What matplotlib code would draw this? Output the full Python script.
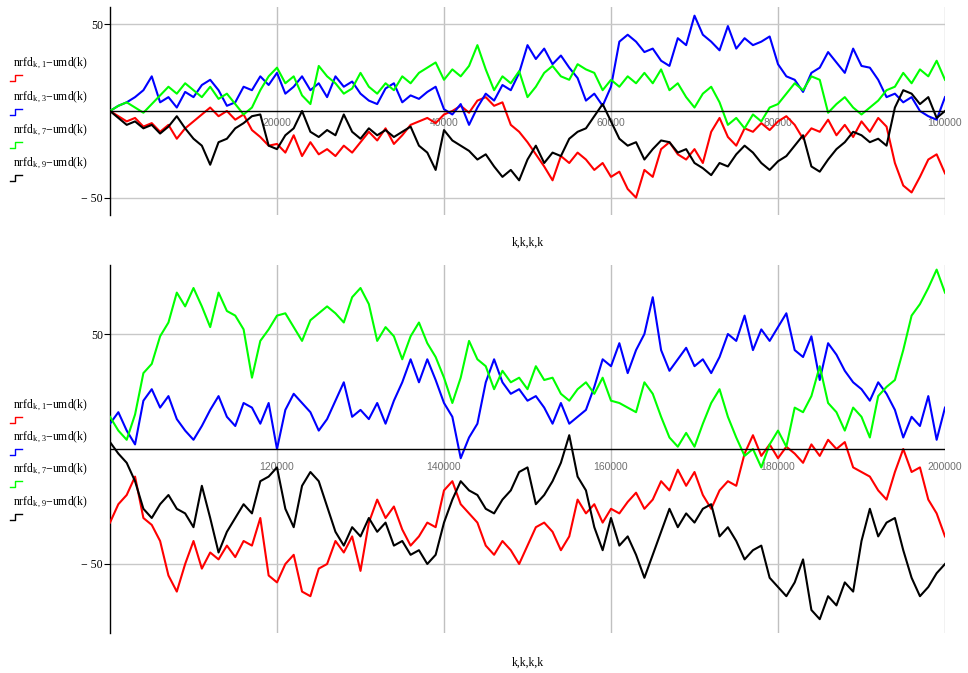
import numpy as np
import matplotlib
matplotlib.use('Agg')
import matplotlib.pyplot as plt
from matplotlib.lines import Line2D

plt.rcParams['mathtext.fontset'] = 'custom'
plt.rcParams['mathtext.rm'] = 'Liberation Serif'
plt.rcParams['mathtext.it'] = 'Liberation Serif:italic'

# values, one sample per 1000 of k
red_top = [0, -3, -6, -4, -9, -7, -12, -8, -16, -10, -6, -2, 2, -3, 0, -5, -2, -11, -15, -20,
           -19, -24, -14, -26, -18, -25, -22, -26, -20, -24, -18, -12, -17, -10, -19, -14, -8, -6, -4, -7,
           -2, 0, 3, -1, 6, 8, 3, 5, -8, -12, -18, -25, -32, -40, -26, -30, -24, -28, -34, -30,
           -38, -35, -45, -50, -34, -38, -22, -18, -25, -28, -22, -30, -12, -4, -15, -20, -10, -12, -7, -11,
           -6, -3, -8, -16, -10, -12, -5, -14, -8, -15, -6, -12, -4, -9, -30, -43, -47, -38, -28, -25, -36]
blue_top = [0, 3, 5, 8, 12, 20, 5, 8, 2, 11, 8, 15, 18, 12, 3, 5, 14, 12, 20, 15,
            22, 10, 14, 20, 12, 16, 8, 20, 14, 17, 10, 6, 4, 13, 16, 5, 9, 7, 11, 14,
            1, -2, 4, -8, 2, 10, 6, 15, 12, 22, 38, 30, 36, 27, 32, 25, 19, 6, 10, 3,
            14, 40, 44, 40, 34, 36, 29, 26, 42, 38, 55, 44, 40, 35, 49, 36, 42, 38, 40, 43,
            27, 20, 18, 11, 22, 25, 34, 28, 22, 36, 26, 25, 18, 8, 10, 5, 8, 0, -3, -5, 8]
green_top = [0, 3, 5, 2, -1, 4, 9, 14, 10, 16, 12, 8, 14, 7, 10, 4, -2, 2, 12, 20,
             25, 16, 20, 9, 4, 26, 20, 16, 10, 13, 22, 14, 10, 16, 12, 20, 16, 22, 25, 28,
             18, 24, 20, 26, 38, 24, 12, 20, 16, 23, 8, 14, 22, 26, 20, 18, 27, 24, 22, 12,
             18, 14, 20, 16, 22, 16, 24, 12, 16, 8, 2, 10, 14, 5, -8, -4, -10, -2, -6, 2,
             4, 10, 16, 12, 20, 18, -1, 4, 8, 2, -2, 2, 6, 12, 14, 22, 16, 24, 20, 29, 18]
black_top = [0, -4, -8, -6, -10, -8, -13, -9, -3, -10, -16, -20, -31, -18, -16, -10, -7, -3, -2, -20,
             -22, -14, -10, 0, -12, -15, -11, -14, -2, -12, -16, -10, -14, -11, -15, -12, -9, -20, -24, -34,
             -11, -17, -20, -23, -28, -25, -32, -38, -34, -40, -28, -20, -30, -24, -26, -16, -12, -10, -3, 4,
             -6, -16, -20, -18, -28, -22, -17, -18, -24, -22, -30, -33, -37, -30, -32, -25, -20, -24, -30, -34,
             -29, -26, -20, -14, -32, -35, -28, -22, -18, -12, -14, -18, -16, -20, 2, 12, 10, 4, 8, -4, 0]

red_bot = [-32, -24, -20, -12, -30, -33, -40, -55, -62, -50, -40, -52, -45, -48, -42, -47, -40, -42, -30, -55,
           -58, -50, -46, -62, -64, -52, -50, -40, -45, -38, -53, -32, -22, -30, -25, -35, -42, -38, -32, -34,
           -18, -14, -24, -28, -32, -42, -46, -40, -44, -50, -42, -34, -32, -36, -44, -38, -22, -28, -24, -32,
           -26, -28, -23, -19, -26, -22, -14, -18, -9, -16, -10, -20, -26, -18, -14, -16, -2, 6, -3, 2,
           -4, 1, -2, -6, 2, -3, 4, 0, 3, -8, -10, -12, -18, -22, -10, 0, -10, -8, -22, -28, -38]
blue_bot = [11, 16, 8, 2, 21, 26, 18, 23, 13, 8, 4, 10, 17, 23, 14, 10, 20, 18, 11, 20,
            0, 17, 24, 20, 16, 8, 13, 21, 29, 14, 17, 13, 20, 11, 21, 29, 39, 29, 39, 30,
            20, 14, -4, 5, 11, 29, 39, 29, 24, 26, 21, 23, 18, 11, 20, 11, 14, 17, 27, 39,
            36, 46, 33, 43, 50, 66, 43, 34, 39, 44, 36, 39, 33, 40, 50, 47, 58, 43, 52, 47,
            53, 59, 43, 40, 49, 30, 46, 41, 34, 29, 26, 21, 29, 24, 17, 5, 14, 10, 23, 4, 18]
green_bot = [14, 8, 4, 15, 33, 37, 49, 55, 68, 62, 70, 62, 53, 68, 60, 58, 52, 31, 47, 52,
             58, 59, 53, 47, 56, 59, 62, 59, 55, 66, 70, 63, 47, 53, 49, 39, 49, 55, 46, 40,
             31, 20, 31, 47, 39, 36, 26, 34, 29, 31, 26, 36, 30, 31, 24, 21, 26, 29, 24, 31,
             21, 20, 18, 16, 29, 24, 14, 5, 1, 7, 1, 11, 20, 26, 14, 5, -3, 0, -8, 2,
             8, 1, 18, 16, 23, 36, 20, 16, 8, 18, 14, 5, 23, 27, 30, 43, 58, 63, 70, 78, 68]
black_bot = [3, -2, -6, -14, -26, -30, -24, -20, -26, -28, -34, -16, -30, -45, -36, -30, -24, -28, -14, -12,
             -8, -26, -34, -16, -10, -14, -25, -36, -42, -34, -38, -30, -36, -32, -42, -40, -46, -44, -50, -46,
             -32, -22, -14, -18, -20, -26, -28, -22, -18, -10, -8, -24, -20, -14, -6, 6, -12, -18, -34, -44,
             -30, -42, -38, -46, -56, -46, -36, -26, -34, -28, -32, -26, -24, -38, -34, -40, -48, -44, -42, -56,
             -60, -64, -58, -48, -70, -74, -64, -68, -58, -62, -40, -26, -38, -32, -30, -44, -56, -64, -60, -54, -50]

legend_labels = ['nrfd$_{\\mathrm{k\\,,1}}$\u2212umd(k)', 'nrfd$_{\\mathrm{k\\,,3}}$\u2212umd(k)',
                 'nrfd$_{\\mathrm{k\\,,7}}$\u2212umd(k)', 'nrfd$_{\\mathrm{k\\,,9}}$\u2212umd(k)']
colors = ['#ff0000', '#0000ff', '#00ff00', '#000000']

W, H = 968, 673
fig = plt.figure(figsize=(W / 100, H / 100), dpi=100)


def panel(rect, x0, ylim, series, label_y):
    ax = fig.add_axes(rect)
    x1 = x0 + 100000
    for s, c in zip(series, colors):
        k = np.linspace(x0, x1, len(s))
        ax.plot(k, s, color=c, lw=1.5, zorder=3)
    ax.set_xlim(x0, x1)
    ax.set_ylim(*ylim)
    for sp in ['top', 'right', 'bottom']:
        ax.spines[sp].set_visible(False)
    ax.spines['left'].set_linewidth(1.0)
    ax.axhline(0, color='black', lw=1.0, zorder=4)
    ax.set_xticks([])
    for xv in range(x0 + 20000, x1 + 1, 20000):
        ax.axvline(xv, color='#c0c0c0', lw=1.0, zorder=1)
        ax.text(xv, 0 - (ylim[1] - ylim[0]) * 0.035, str(xv), ha='center', va='top',
                fontsize=7.5, color='#707070', family='Liberation Sans', zorder=2)
    for yv in (-50, 50):
        ax.axhline(yv, color='#c8c8c8', lw=1.0, zorder=1)
    ax.set_yticks([-50, 50])
    ax.set_yticklabels(['\u2212 50', '50'], family='Liberation Serif', fontsize=8.5)
    ax.tick_params(axis='y', length=4, width=0.8, pad=1)
    fig.text((110 + 945) / 2 / W, 1 - label_y / H, 'k,k,k,k', ha='center', va='center',
             family='Liberation Serif', fontsize=8.5)
    return ax


panel([110 / W, 1 - 215 / H, 835 / W, 208 / H], 0, (-60, 60),
      [red_top, blue_top, green_top, black_top], 243)
panel([110 / W, 1 - 633 / H, 835 / W, 368 / H], 100000, (-80, 80),
      [red_bot, blue_bot, green_bot, black_bot], 663)

# legends on the left, text then a small step symbol
for ytxt in ([63, 97, 130, 163], [405, 437, 469, 502]):
    for lab, c, yt in zip(legend_labels, colors, ytxt):
        fig.text(13 / W, 1 - yt / H, lab, ha='left', va='center',
                 family='Liberation Serif', fontsize=8.5)
        yb = yt + 18
        fig.add_artist(Line2D(np.array([10, 15, 15, 22]) / W,
                              1 - np.array([yb, yb, yb - 6, yb - 6]) / H,
                              color=c, lw=1.0, transform=fig.transFigure))

fig.savefig('out.png', dpi=100)
